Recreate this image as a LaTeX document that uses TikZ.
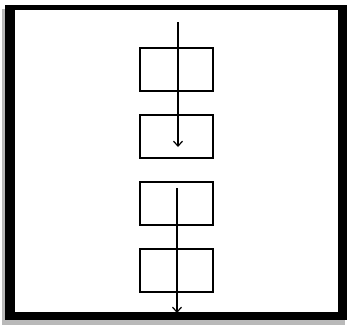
\documentclass[tikz,border=0pt]{standalone}
\usepackage{tikz}
\usetikzlibrary{positioning,arrows.meta}
\definecolor{shadowgray}{HTML}{8A8A8A}

\begin{document}
\begin{tikzpicture}[x=1pt, y=-1pt,
    cell/.style={draw, line width=2pt, minimum width=73pt, minimum height=43pt, inner sep=0pt},
    flow/.style={line width=1.2pt, -{Straight Barb[length=5pt, width=9pt]}},
    node distance=22pt]
    \useasboundingbox (0,0) rectangle (350,325);
    % frame with its shadow
    \fill[shadowgray!60] (2,9) rectangle (345,325);
    \fill[black] (5,5) rectangle (347,320);
    \fill[white] (15,10) rectangle (338,312);

    % the four boxes
    \node[cell] (box1) at (176,69) {};
    \node[cell, below=of box1] (box2) {};
    \node[cell, below=of box2] (box3) {};
    \node[cell, below=of box3] (box4) {};

    \coordinate (top) at (178,22);
    \coordinate (stop) at (178,147);
    \coordinate (start) at (177,188);
    \coordinate (bottom) at (177,313);

    \draw[flow] (top) -- (stop);
    \draw[flow] (start) -- (bottom);
\end{tikzpicture}
\end{document}
